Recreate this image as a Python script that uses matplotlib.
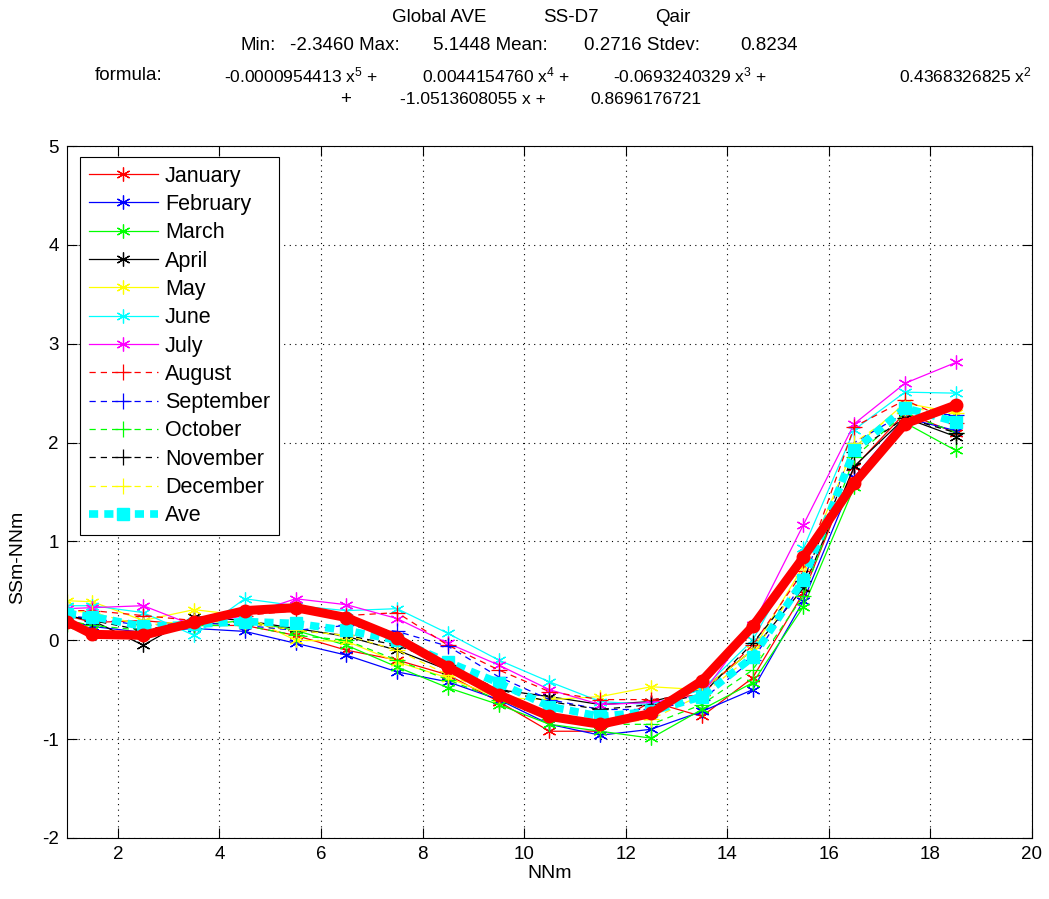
import matplotlib
matplotlib.use("Agg")
import matplotlib.pyplot as plt

plt.rcParams['font.family'] = ['Liberation Sans', 'DejaVu Sans']
plt.rcParams['mathtext.default'] = 'regular'
plt.rcParams['axes.unicode_minus'] = False

x = [1, 1.5, 2.5, 3.5, 4.5, 5.5, 6.5, 7.5, 8.5, 9.5, 10.5, 11.5, 12.5, 13.5, 14.5, 15.5, 16.5, 17.5, 18.5]

january   = [0.25, 0.18, 0.20, 0.15, 0.15, 0.05, -0.10, -0.20, -0.35, -0.62, -0.92, -0.92, -0.62, -0.77, -0.38, 0.48, 1.75, 2.30, 2.10]
february  = [0.20, 0.14, 0.08, 0.12, 0.09, -0.03, -0.15, -0.32, -0.42, -0.60, -0.85, -0.96, -0.90, -0.72, -0.50, 0.40, 1.65, 2.25, 2.12]
march     = [0.15, 0.10, 0.05, 0.15, 0.20, 0.10, -0.05, -0.27, -0.48, -0.65, -0.85, -0.92, -0.99, -0.70, -0.43, 0.34, 1.55, 2.20, 1.92]
april     = [0.25, 0.20, -0.05, 0.24, 0.20, 0.12, 0.04, -0.10, -0.30, -0.50, -0.57, -0.65, -0.62, -0.50, -0.10, 0.53, 1.76, 2.25, 2.06]
may       = [0.40, 0.39, 0.20, 0.31, 0.25, 0.00, -0.01, -0.22, -0.38, -0.58, -0.60, -0.57, -0.47, -0.50, -0.10, 0.75, 1.95, 2.40, 2.30]
june      = [0.35, 0.35, 0.28, 0.05, 0.42, 0.35, 0.30, 0.32, 0.07, -0.20, -0.42, -0.62, -0.65, -0.50, 0.00, 0.93, 2.13, 2.51, 2.50]
july      = [0.32, 0.33, 0.35, 0.15, 0.25, 0.42, 0.36, 0.22, -0.03, -0.25, -0.50, -0.65, -0.63, -0.55, 0.15, 1.17, 2.19, 2.60, 2.81]
august    = [0.30, 0.30, 0.25, 0.20, 0.25, 0.30, 0.25, 0.28, -0.05, -0.30, -0.52, -0.60, -0.60, -0.55, -0.05, 0.70, 2.16, 2.43, 2.20]
september = [0.25, 0.22, 0.15, 0.18, 0.15, 0.10, 0.15, 0.09, -0.06, -0.37, -0.60, -0.70, -0.70, -0.60, -0.20, 0.60, 2.00, 2.30, 2.28]
october   = [0.20, 0.15, 0.10, 0.15, 0.15, 0.05, 0.00, -0.20, -0.40, -0.60, -0.80, -0.85, -0.85, -0.65, -0.30, 0.45, 1.85, 2.30, 2.10]
november  = [0.25, 0.20, 0.10, 0.20, 0.18, 0.10, 0.05, -0.05, -0.25, -0.50, -0.62, -0.70, -0.65, -0.55, -0.03, 0.60, 1.90, 2.25, 2.10]
december  = [0.30, 0.28, 0.15, 0.20, 0.18, 0.10, 0.05, -0.10, -0.35, -0.55, -0.75, -0.85, -0.80, -0.55, -0.15, 0.65, 2.00, 2.35, 2.30]
ave       = [0.27, 0.24, 0.14, 0.16, 0.19, 0.17, 0.10, 0.00, -0.22, -0.43, -0.67, -0.77, -0.72, -0.57, -0.17, 0.61, 1.92, 2.35, 2.21]
fit       = [0.19, 0.06, 0.05, 0.18, 0.30, 0.33, 0.23, 0.02, -0.27, -0.55, -0.77, -0.85, -0.74, -0.41, 0.14, 0.84, 1.59, 2.19, 2.38]

month_names = ['January', 'February', 'March', 'April', 'May', 'June', 'July',
               'August', 'September', 'October', 'November', 'December']
month_data = [january, february, march, april, may, june, july,
              august, september, october, november, december]
month_colors = ['#ff0000', '#0000ff', '#00ff00', '#000000', '#ffff00', '#00ffff', '#ff00ff',
                '#ff0000', '#0000ff', '#00ff00', '#000000', '#ffff00']

xticks = [2, 4, 6, 8, 10, 12, 14, 16, 18, 20]
yticks = [-2, -1, 0, 1, 2, 3, 4, 5]

W, H = 1049, 899
fig = plt.figure(figsize=(W / 100, H / 100), dpi=100)
ax = fig.add_axes([67 / W, 1 - 838 / H, (1032 - 67) / W, (838 - 146) / H])

asterisk = (6, 2, 0)
handles = []
for i, (name, data, col) in enumerate(zip(month_names, month_data, month_colors)):
    if i < 7:
        ls, mk, ms = '-', asterisk, 10
    else:
        ls, mk, ms = (0, (5, 4)), '+', 12
    ln, = ax.plot(x, data, color=col, linestyle=ls, marker=mk, markersize=ms,
                  linewidth=0.9, markeredgewidth=0.9, label=name)
    handles.append(ln)

ln_ave, = ax.plot(x, ave, color='#00ffff', linestyle=(0, (1.2, 0.8)), linewidth=5.5,
                  marker='s', markersize=9, markeredgecolor='#00ffff', label='Ave')
handles.append(ln_ave)

ax.plot(x, fit, color='#ff0000', linestyle='-', linewidth=6.5, marker='o',
        markersize=9, markeredgecolor='#ff0000')

ax.set_xlim(1, 20)
ax.set_ylim(-2, 5)
ax.set_xticks(xticks)
ax.set_yticks(yticks)
ax.tick_params(direction='in', top=True, right=True, labelsize=13.5, length=7, width=0.8, pad=6)
ax.grid(True, color='black', linestyle=(0, (1, 4)), linewidth=0.8)
for s in ax.spines.values():
    s.set_linewidth(0.8)
ax.set_xlabel('NNm', fontsize=14, labelpad=1)
ax.set_ylabel('SSm-NNm', fontsize=14)
ax.yaxis.set_label_coords(-0.042, 0.405)

leg = ax.legend(handles=handles, loc='upper left', bbox_to_anchor=(13 / 965, 1 - 11 / 692),
                fontsize=15.5, handlelength=3.2, handletextpad=0.35, labelspacing=0.34,
                borderpad=0.4, borderaxespad=0, frameon=True, fancybox=False,
                edgecolor='black', framealpha=1)
leg.get_frame().set_linewidth(0.8)

def ftext(px, py, s, ha='left', size=13.5):
    fig.text(px / W, 1 - py / H, s, fontsize=size, ha=ha, va='center')

ftext(392, 18, 'Global AVE')
ftext(543, 18, 'SS-D7')
ftext(655, 18, 'Qair')

ftext(241, 45, 'Min:')
ftext(400, 45, '-2.3460 Max:', ha='right')
ftext(548, 45, '5.1448 Mean:', ha='right')
ftext(700, 45, '0.2716 Stdev:', ha='right')
ftext(740, 45, '0.8234')

ftext(95, 75, 'formula:')
ftext(378, 75, r'-0.0000954413 x$^{5}$ +', ha='right', size=12.5)
ftext(570, 75, r'0.0044154760 x$^{4}$ +', ha='right', size=12.5)
ftext(767, 75, r'-0.0693240329 x$^{3}$ +', ha='right', size=12.5)
ftext(1032, 75, r'0.4368326825 x$^{2}$', ha='right', size=12.5)

ftext(340, 99, '+')
ftext(400, 99, '-1.0513608055 x +', size=12.5)
ftext(590, 99, '0.8696176721', size=12.5)

fig.savefig('out.png', dpi=100)
